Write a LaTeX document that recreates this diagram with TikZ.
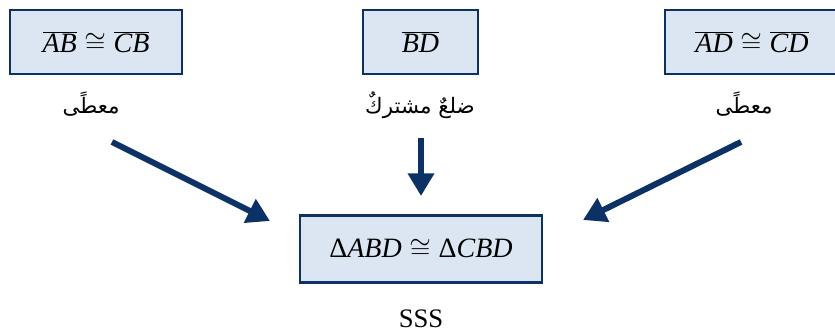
\documentclass[tikz,border=0pt]{standalone}
\usepackage{fontspec}
\setmainfont{Liberation Serif}
\newfontfamily\arabicfont[Script=Arabic]{DejaVu Sans}
\TeXXeTstate=1
\usetikzlibrary{arrows.meta}
\definecolor{navy}{HTML}{0B3166}
\definecolor{boxfill}{HTML}{DCE6F2}
\tikzset{
  factbox/.style={draw=navy, line width=1.8pt, fill=boxfill, inner sep=0pt,
    minimum height=48pt, font=\fontsize{21}{25}\selectfont},
  arlabel/.style={anchor=base, font=\fontsize{16}{20}\arabicfont},
  bigarrow/.style={draw=navy, line width=4.5pt, -{Triangle[length=17pt,width=19pt]}}
}
\begin{document}
\begin{tikzpicture}[x=0.75pt,y=-0.75pt]
\clip (0,0) rectangle (835,334);
\fill[white] (0,0) rectangle (835,334);
% top boxes
\node[factbox, minimum width=129pt] (b1) at (96,42) {$\overline{\textit{AB}}\cong\overline{\textit{CB}}$};
\node[factbox, minimum width=86.25pt] (b2) at (420.5,42) {$\overline{\textit{BD}}$};
\node[factbox, minimum width=130.5pt] (b3) at (752,42) {$\overline{\textit{AD}}\cong\overline{\textit{CD}}$};
% labels
\node[arlabel] (l1) at (91,114) {\beginR معطًى\endR};
\node[arlabel] (l2) at (420,114) {\beginR ضلعٌ مشتركٌ\endR};
\node[arlabel] (l3) at (744,114) {\beginR معطًى\endR};
% bottom box
\node[factbox, minimum width=181.5pt, minimum height=50pt] (res) at (421,249) {\textup{Δ}\textit{ABD}${}\cong{}$\textup{Δ}\textit{CBD}};
\node[anchor=base, font=\fontsize{20}{24}\selectfont] (sss) at (421,328) {SSS};
% arrows
\coordinate (s1) at (112,142);
\coordinate (t1) at (270,221);
\coordinate (s2) at (421,138);
\coordinate (t2) at (421,196);
\coordinate (s3) at (741,142);
\coordinate (t3) at (583,220);
\draw[bigarrow] (s1) -- (t1);
\draw[bigarrow] (s2) -- (t2);
\draw[bigarrow] (s3) -- (t3);
\end{tikzpicture}
\end{document}
